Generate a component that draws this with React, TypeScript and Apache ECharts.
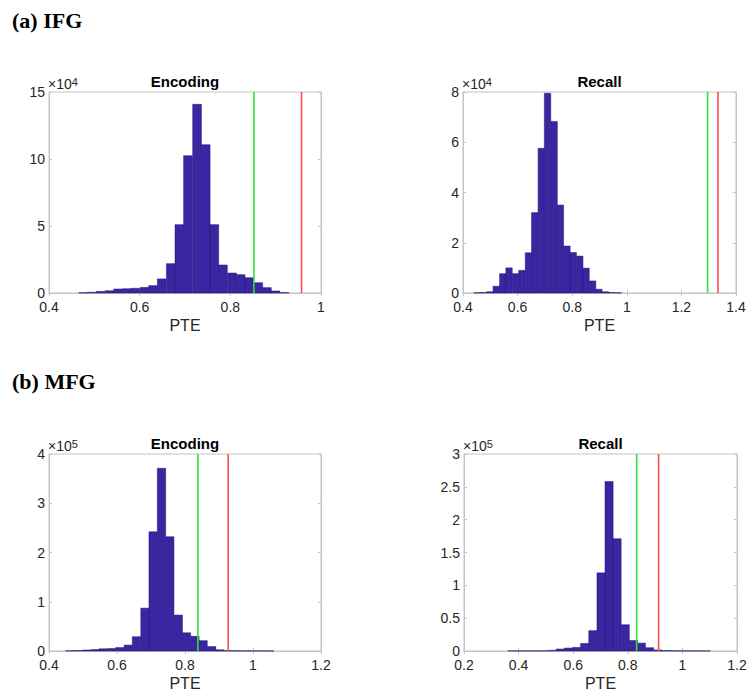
import React, { useEffect, useRef } from "react";
import * as echarts from "echarts";

// ---------- Data (counts in units of the axis exponent) ----------
// (a) IFG – Encoding (x10^4)
const ifgEncEdges = [0.466, 0.485, 0.504, 0.524, 0.543, 0.562, 0.581, 0.601, 0.620, 0.639, 0.659, 0.678, 0.697, 0.717, 0.736, 0.755, 0.774, 0.794, 0.813, 0.832, 0.852, 0.871, 0.890, 0.910];
const ifgEncCounts = [0.02, 0.05, 0.12, 0.17, 0.3, 0.32, 0.35, 0.42, 0.55, 1.05, 2.19, 5.1, 10.25, 14.08, 11.07, 5.1, 2.09, 1.49, 1.37, 1.14, 0.77, 0.4, 0.15, 0.03];
const ifgEncBinWidth = 0.0193;

// (a) IFG – Recall (x10^4)
const ifgRecEdges = [0.440, 0.463, 0.487, 0.510, 0.534, 0.557, 0.581, 0.604, 0.628, 0.651, 0.675, 0.698, 0.722, 0.745, 0.769, 0.792, 0.816, 0.839, 0.863, 0.886, 0.910, 0.933, 0.957];
const ifgRecCounts = [0.01, 0.02, 0.05, 0.27, 0.77, 1.0, 0.77, 0.9, 1.6, 3.2, 5.76, 7.95, 6.83, 3.5, 1.87, 1.61, 1.47, 0.99, 0.48, 0.15, 0.05, 0.02, 0.01];
const ifgRecBinWidth = 0.0235;

// (b) MFG – Encoding (x10^5)
const mfgEncEdges = [0.449, 0.474, 0.498, 0.523, 0.547, 0.572, 0.596, 0.621, 0.645, 0.670, 0.694, 0.7186, 0.743, 0.768, 0.792, 0.817, 0.841, 0.866, 0.890, 0.915, 0.939, 0.964, 0.988, 1.013, 1.037];
const mfgEncCounts = [0.005, 0.01, 0.02, 0.03, 0.045, 0.05, 0.07, 0.12, 0.29, 0.87, 2.42, 3.71, 2.32, 0.73, 0.37, 0.3, 0.21, 0.09, 0.025, 0.008, 0.005, 0.004, 0.004, 0.003, 0.002];
const mfgEncBinWidth = 0.0245;

// (b) MFG – Recall (x10^5)
const mfgRecEdges = [0.360, 0.390, 0.420, 0.449, 0.479, 0.509, 0.538, 0.568, 0.598, 0.627, 0.657, 0.687, 0.7165, 0.746, 0.776, 0.806, 0.835, 0.865, 0.895, 0.924, 0.954, 0.984, 1.014, 1.043, 1.073];
const mfgRecCounts = [0.002, 0.002, 0.002, 0.002, 0.003, 0.01, 0.03, 0.045, 0.055, 0.115, 0.31, 1.19, 2.58, 1.71, 0.4, 0.16, 0.12, 0.05, 0.015, 0.006, 0.004, 0.003, 0.003, 0.002, 0.002];
const mfgRecBinWidth = 0.0297;

// Threshold lines [green, red]
const greenLines = [0.852, 1.296, 0.838, 0.8325];
const redLines = [0.957, 1.334, 0.927, 0.913];

// Axis ranges
const xMins = [0.4, 0.4, 0.4, 0.2];
const xMaxs = [1.0, 1.4, 1.2, 1.2];
const yMaxs = [15, 8, 4, 3];
const yIntervals = [5, 2, 1, 0.5];
const exponents = ["4", "4", "5", "5"];
const panelTitles = ["Encoding", "Recall", "Encoding", "Recall"];
const groupTitles = ["(a) IFG", "(b) MFG"];

// ---------- Layout ----------
const grids = [
  { left: 49, top: 92, width: 272, height: 201 },
  { left: 463, top: 92, width: 273, height: 201 },
  { left: 49, top: 454, width: 272, height: 200 },
  { left: 464, top: 454, width: 273, height: 200 },
];

const BAR = "#3b25a3";
const EDGE = "#26176e";
const AXIS = "#c4c4c4";
const TXT = "#262626";
const SANS = '"Liberation Sans", Arial, sans-serif';

export default function App() {
  const ref = useRef<HTMLDivElement>(null);

  useEffect(() => {
    document.body.style.margin = "0";
    if (!ref.current) return;
    const chart = echarts.init(ref.current, undefined, { renderer: "svg" });

    const allEdges = [ifgEncEdges, ifgRecEdges, mfgEncEdges, mfgRecEdges];
    const allCounts = [ifgEncCounts, ifgRecCounts, mfgEncCounts, mfgRecCounts];
    const allWidths = [ifgEncBinWidth, ifgRecBinWidth, mfgEncBinWidth, mfgRecBinWidth];

    const xAxes: any[] = [];
    const yAxes: any[] = [];
    const series: any[] = [];
    const graphics: any[] = [];

    grids.forEach((g, i) => {
      const xBase = {
        gridIndex: i,
        type: "value",
        min: xMins[i],
        max: xMaxs[i],
        interval: 0.2,
        splitLine: { show: false },
        axisLine: { show: true, lineStyle: { color: AXIS, width: 1 } },
        axisTick: { show: true, inside: true, length: 3, lineStyle: { color: AXIS } },
      };
      xAxes.push({
        ...xBase,
        position: "bottom",
        axisLabel: { show: true, color: TXT, fontSize: 14, fontFamily: SANS, margin: 7 },
        name: "PTE",
        nameLocation: "middle",
        nameGap: 24,
        nameTextStyle: { color: TXT, fontSize: 16, fontFamily: SANS },
      });
      xAxes.push({ ...xBase, position: "top", axisLabel: { show: false } });

      const yBase = {
        gridIndex: i,
        type: "value",
        min: 0,
        max: yMaxs[i],
        interval: yIntervals[i],
        splitLine: { show: false },
        axisLine: { show: true, lineStyle: { color: AXIS, width: 1 } },
        axisTick: { show: true, inside: true, length: 3, lineStyle: { color: AXIS } },
      };
      yAxes.push({
        ...yBase,
        position: "left",
        axisLabel: { show: true, color: TXT, fontSize: 14, fontFamily: SANS, margin: 4 },
      });
      yAxes.push({ ...yBase, position: "right", axisLabel: { show: false } });

      const data = allEdges[i].map((e, k) => [e, e + allWidths[i], allCounts[i][k]]);
      series.push({
        type: "custom",
        xAxisIndex: 2 * i,
        yAxisIndex: 2 * i,
        data,
        encode: { x: [0, 1], y: 2 },
        z: 2,
        renderItem: (params: any, api: any) => {
          const x0 = api.value(0);
          const x1 = api.value(1);
          const v = api.value(2);
          const p0 = api.coord([x0, v]);
          const p1 = api.coord([x1, 0]);
          return {
            type: "rect",
            shape: { x: p0[0], y: p0[1], width: p1[0] - p0[0], height: p1[1] - p0[1] },
            style: { fill: BAR, stroke: EDGE, lineWidth: 0.5 },
          };
        },
      });
      series.push({
        type: "line",
        xAxisIndex: 2 * i,
        yAxisIndex: 2 * i,
        data: [[greenLines[i], 0], [greenLines[i], yMaxs[i]]],
        symbol: "none",
        lineStyle: { color: "#2fe22f", width: 1.6 },
        z: 5,
      });
      series.push({
        type: "line",
        xAxisIndex: 2 * i,
        yAxisIndex: 2 * i,
        data: [[redLines[i], 0], [redLines[i], yMaxs[i]]],
        symbol: "none",
        lineStyle: { color: "#ff4d4d", width: 1.6 },
        z: 5,
      });

      // Subplot title
      graphics.push({
        type: "text",
        x: g.left + g.width / 2,
        y: i < 2 ? 81 : 443,
        style: {
          text: panelTitles[i],
          font: 'bold 15px "Liberation Sans", Arial, sans-serif',
          fill: "#000",
          align: "center",
          verticalAlign: "middle",
        },
      });
      // Exponent label ×10^n
      graphics.push({
        type: "text",
        x: g.left - 1,
        y: g.top - 1,
        style: {
          text: "{m|×10}{e|" + exponents[i] + "}",
          align: "left",
          verticalAlign: "bottom",
          rich: {
            m: { fontSize: 14, fontFamily: SANS, fill: TXT, lineHeight: 15, verticalAlign: "bottom" },
            e: { fontSize: 11, fontFamily: SANS, fill: TXT, lineHeight: 12, verticalAlign: "top" },
          },
        },
      });
    });

    graphics.push({
      type: "text",
      x: 12,
      y: 20,
      style: { text: groupTitles[0], font: 'bold 22px "Liberation Serif", "Times New Roman", serif', fill: "#000", align: "left", verticalAlign: "middle" },
    });
    graphics.push({
      type: "text",
      x: 12,
      y: 381,
      style: { text: groupTitles[1], font: 'bold 22px "Liberation Serif", "Times New Roman", serif', fill: "#000", align: "left", verticalAlign: "middle" },
    });

    chart.setOption({
      animation: false,
      backgroundColor: "#ffffff",
      grid: grids.map((g) => ({ ...g, show: true, borderColor: AXIS, borderWidth: 1, backgroundColor: "transparent" })),
      xAxis: xAxes,
      yAxis: yAxes,
      series,
      graphic: graphics,
    });

    return () => chart.dispose();
  }, []);

  return <div ref={ref} style={{ width: 751, height: 692 }} />;
}
